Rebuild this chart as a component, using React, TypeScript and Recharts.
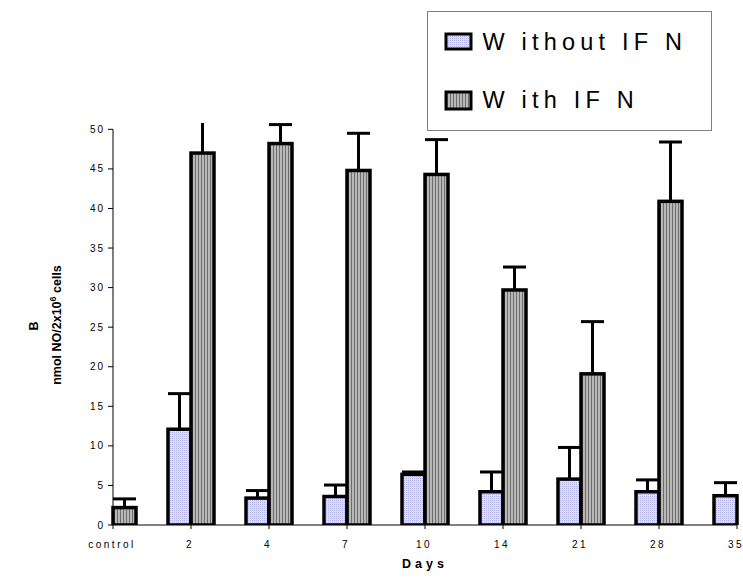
import React from 'react'
import { BarChart, Bar, XAxis, YAxis, ReferenceLine } from 'recharts'

// Days after treatment (index 0 = control)
const days = ['control', '2', '4', '7', '10', '14', '21', '28', '35']
const withoutIfn = [null, 12.1, 3.4, 3.6, 6.4, 4.2, 5.8, 4.2, 3.7]
const withoutErr = [null, 4.5, 0.95, 1.45, 0.3, 2.5, 4.0, 1.5, 1.65]
const withIfn = [2.2, 47.0, 48.2, 44.8, 44.3, 29.7, 19.1, 40.9, null]
const withErr = [1.1, 6.0, 2.4, 4.7, 4.4, 2.9, 6.6, 7.5, null]
const yTicks = [0, 5, 10, 15, 20, 25, 30, 35, 40, 45, 50]

const data = days.map((d, i) => ({
  x: i,
  day: d,
  without: withoutIfn[i],
  withoutErr: withoutErr[i],
  with: withIfn[i],
  withErr: withErr[i],
}))

const FONT = "'Liberation Sans', Arial, sans-serif"

function Patterns({ prefix }: { prefix: string }) {
  return (
    <defs>
      <pattern id={`${prefix}-dots`} width='2' height='2' patternUnits='userSpaceOnUse'>
        <rect width='2' height='2' fill='#dcdcfa' />
        <rect width='1' height='1' fill='#b4b4e6' />
      </pattern>
      <pattern id={`${prefix}-stripes`} width='3' height='3' patternUnits='userSpaceOnUse'>
        <rect width='3' height='3' fill='#b8b8b8' />
        <rect width='1' height='3' fill='#6e6e6e' />
      </pattern>
    </defs>
  )
}

// bar with its upper error whisker; drawn inside the bar layer so it gets clipped
function barWithError(valueKey: string, errKey: string) {
  return (props: any) => {
    const { x, y, width, height, payload, fill } = props
    const v = payload[valueKey]
    const e = payload[errKey]
    if (v == null || !height) return <g />
    const errPx = e ? (e * height) / v : 0
    const cx = x + width / 2
    return (
      <g>
        {errPx > 0 && (
          <>
            <line x1={cx} x2={cx} y1={y} y2={y - errPx} stroke='#000' strokeWidth={3} />
            <line x1={x} x2={x + width} y1={y - errPx} y2={y - errPx} stroke='#000' strokeWidth={3} />
          </>
        )}
        <rect x={x} y={y} width={width} height={height} fill={fill} stroke='#000' strokeWidth={3.5} />
      </g>
    )
  }
}

function YLabel() {
  return (
    <g fontFamily={FONT} fontWeight='bold' fill='#000'>
      <text transform='translate(38, 326) rotate(-90)' textAnchor='middle' fontSize={12.5}>
        B
      </text>
      <text transform='translate(61, 325) rotate(-90)' textAnchor='middle' fontSize={12.5}>
        nmol NO/2x10
        <tspan fontSize={9} dy={-5}>
          6
        </tspan>
        <tspan dy={5}> cells</tspan>
      </text>
    </g>
  )
}

function LegendBox() {
  return (
    <svg
      width={743}
      height={140}
      style={{ position: 'absolute', left: 0, top: 0 }}
      fontFamily={FONT}
    >
      <Patterns prefix='lg' />
      <rect x={427.5} y={11.5} width={284} height={119} fill='#fff' stroke='#808080' />
      <rect x={446} y={34} width={25} height={15} fill='url(#lg-dots)' stroke='#000' strokeWidth={3} />
      <text x={482.5} y={49.5} fontSize={23.5} letterSpacing={5.2} fill='#000'>
        W ithout IF N
      </text>
      <rect x={446} y={92} width={25} height={17} fill='url(#lg-stripes)' stroke='#000' strokeWidth={3} />
      <text x={482.5} y={107.5} fontSize={23.5} letterSpacing={5.2} fill='#000'>
        W ith IF N
      </text>
    </svg>
  )
}

export default function App() {
  return (
    <div
      style={{
        position: 'absolute',
        left: 0,
        top: 0,
        width: 743,
        height: 578,
        background: '#fff',
        fontFamily: FONT,
      }}
    >
      <BarChart
        width={743}
        height={578}
        data={data}
        barSize={23}
        barGap={0}
        margin={{ top: 123, right: 6, left: 53, bottom: 8 }}
      >
        <Patterns prefix='ch' />
        <XAxis
          dataKey='x'
          type='number'
          domain={[0, 8]}
          ticks={[0, 1, 2, 3, 4, 5, 6, 7, 8]}
          interval={0}
          tickFormatter={(v) => days[v]}
          tickSize={4}
          tickMargin={12}
          height={45}
          axisLine={{ stroke: '#000' }}
          tickLine={{ stroke: '#000' }}
          tick={{ fontSize: 10, fill: '#000', letterSpacing: 2.5, dx: -1 }}
          label={{
            value: 'Days',
            position: 'insideBottom',
            offset: 2,
            fontSize: 12.5,
            fontWeight: 'bold',
            fill: '#000',
            letterSpacing: 4,
          }}
        />
        <YAxis
          domain={[0, 50.8]}
          ticks={yTicks}
          interval={0}
          allowDataOverflow
          width={60}
          tickSize={5}
          tickMargin={3}
          axisLine={false}
          tickLine={{ stroke: '#000' }}
          tick={{ fontSize: 10, fill: '#000', letterSpacing: 2 }}
          label={<YLabel />}
        />
        <ReferenceLine
          segment={[
            { x: 0, y: 0 },
            { x: 0, y: 50 },
          ]}
          stroke='#000'
        />
        <Bar
          dataKey='without'
          fill='url(#ch-dots)'
          shape={barWithError('without', 'withoutErr')}
          isAnimationActive={false}
        />
        <Bar
          dataKey='with'
          fill='url(#ch-stripes)'
          shape={barWithError('with', 'withErr')}
          isAnimationActive={false}
        />
      </BarChart>
      <LegendBox />
    </div>
  )
}
